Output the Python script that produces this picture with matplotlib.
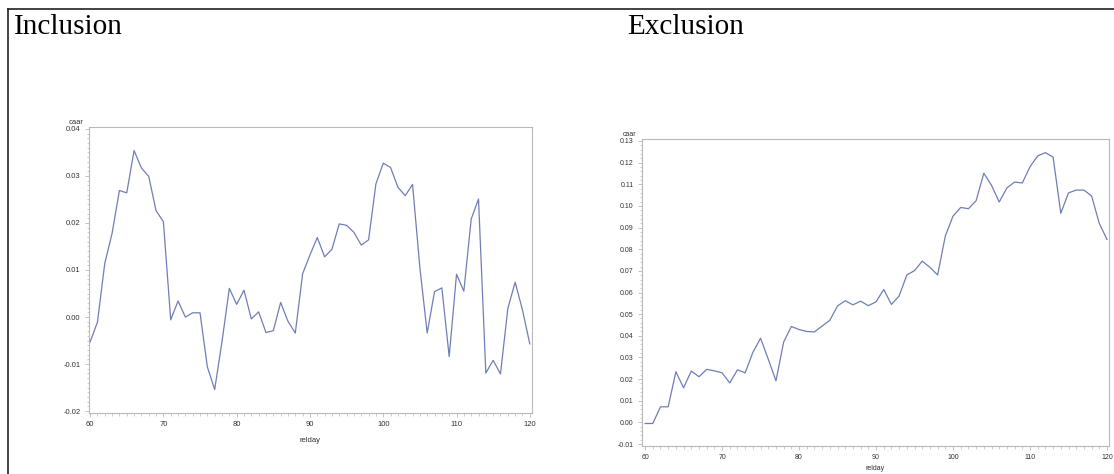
import numpy as np
from matplotlib import pyplot as plt
from matplotlib.lines import Line2D
from matplotlib.ticker import MultipleLocator, FormatStrFormatter

# relative event day and cumulative abnormal return
relday = list(range(60, 121))

caar_inclusion = [
    -0.0053, -0.0011, 0.0114, 0.0178, 0.0269, 0.0264, 0.0354, 0.0317, 0.0299, 0.0226,
    0.0203, -0.0006, 0.0034, 0.0000, 0.0009, 0.0009, -0.0106, -0.0154, -0.0052, 0.0061,
    0.0027, 0.0057, -0.0004, 0.0011, -0.0033, -0.0029, 0.0031, -0.0009, -0.0034, 0.0092,
    0.0132, 0.0169, 0.0128, 0.0144, 0.0198, 0.0195, 0.0180, 0.0153, 0.0164, 0.0283,
    0.0327, 0.0318, 0.0276, 0.0258, 0.0282, 0.0105, -0.0034, 0.0054, 0.0062, -0.0084,
    0.0091, 0.0055, 0.0208, 0.0251, -0.0119, -0.0092, -0.0121, 0.0018, 0.0074, 0.0015,
    -0.0057,
]

caar_exclusion = [
    -0.0005, -0.0005, 0.0072, 0.0072, 0.0234, 0.0160, 0.0237, 0.0211, 0.0245, 0.0238,
    0.0229, 0.0182, 0.0243, 0.0229, 0.0323, 0.0389, 0.0292, 0.0192, 0.0371, 0.0443,
    0.0429, 0.0420, 0.0418, 0.0445, 0.0472, 0.0538, 0.0562, 0.0543, 0.0560, 0.0539,
    0.0557, 0.0614, 0.0545, 0.0584, 0.0681, 0.0701, 0.0745, 0.0716, 0.0681, 0.0861,
    0.0953, 0.0993, 0.0987, 0.1024, 0.1151, 0.1095, 0.1018, 0.1083, 0.1110, 0.1106,
    0.1181, 0.1231, 0.1246, 0.1225, 0.0966, 0.1060, 0.1073, 0.1073, 0.1046, 0.0919,
    0.0845,
]

W, H = 1114, 474
fig = plt.figure(figsize=(W / 100, H / 100), dpi=100)

line_col = '#6f7fb5'
text_col = '#333333'
grey = '#b8b8b8'


def px_axes(x0, y0, x1, y1):
    return fig.add_axes([x0 / W, 1 - y1 / H, (x1 - x0) / W, (y1 - y0) / H])


def style(ax, ystep, yminor, fs, xpad):
    for s in ax.spines.values():
        s.set_color(grey)
        s.set_linewidth(0.8)
    ax.xaxis.set_major_locator(MultipleLocator(10))
    ax.xaxis.set_minor_locator(MultipleLocator(1))
    ax.yaxis.set_major_locator(MultipleLocator(ystep))
    ax.yaxis.set_minor_locator(MultipleLocator(yminor))
    ax.yaxis.set_major_formatter(FormatStrFormatter('%.2f'))
    ax.tick_params(which='major', length=3, width=0.6, color=grey,
                   labelsize=fs, labelcolor=text_col, pad=3)
    ax.tick_params(which='minor', length=1.8, width=0.5, color=grey)
    for lab in ax.get_xticklabels() + ax.get_yticklabels():
        lab.set_family('Liberation Sans')
    ax.set_xlabel('relday', fontsize=fs, color=text_col,
                  family='Liberation Sans', labelpad=xpad)
    ax.annotate('caar', xy=(0, 1), xycoords='axes fraction', xytext=(-9, 1),
                textcoords='offset points', ha='center', va='bottom',
                fontsize=fs, color=text_col, family='Liberation Sans')


# Inclusion panel
ax1 = px_axes(89, 127, 532, 413)
ax1.plot(relday, caar_inclusion, color=line_col, linewidth=0.9)
ax1.set_xlim(59.85, 120.3)
ax1.set_ylim(-0.0204, 0.0404)
style(ax1, 0.01, 0.001, 5.5, 6)

# Exclusion panel
ax2 = px_axes(642, 139, 1109, 446)
ax2.plot(relday, caar_exclusion, color=line_col, linewidth=0.9)
ax2.set_xlim(59.6, 120.26)
ax2.set_ylim(-0.0109, 0.1309)
style(ax2, 0.01, 0.002, 5.0, 3)

# panel headings
fig.text(14 / W, 1 - 34 / H, 'Inclusion', family='Liberation Serif',
         fontsize=21, color='black', va='baseline', ha='left')
fig.text(627 / W, 1 - 34 / H, 'Exclusion', family='Liberation Serif',
         fontsize=21, color='black', va='baseline', ha='left')

# table frame
fig.add_artist(Line2D([8 / W, 1], [1 - 9 / H, 1 - 9 / H], color='#222222', linewidth=1.2))
fig.add_artist(Line2D([8 / W, 8 / W], [0, 1 - 9 / H], color='#222222', linewidth=1.2))

fig.savefig('out.png', dpi=100)
